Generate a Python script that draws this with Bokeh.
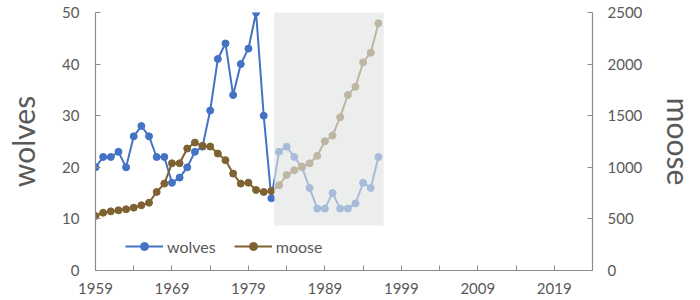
from bokeh.plotting import figure
from bokeh.models import (Range1d, LinearAxis, FixedTicker, BoxAnnotation,
                          Legend, LegendItem)
from bokeh.embed import file_html
from bokeh.resources import INLINE

years = list(range(1959, 1997))
wolves = [20, 22, 22, 23, 20, 26, 28, 26, 22, 22, 17, 18, 20, 23, 24, 31, 41, 44,
          34, 40, 43, 50, 30, 14, 23, 24, 22, 20, 16, 12, 12, 15, 12, 12, 13, 17, 16, 22]
moose = [528, 560, 573, 583, 593, 609, 632, 657, 761, 842, 1039, 1039, 1182, 1240,
         1208, 1201, 1133, 1069, 939, 842, 851, 780, 761, 771, 826, 926, 971, 1007,
         1039, 1111, 1253, 1308, 1486, 1700, 1781, 2017, 2111, 2396]

x_labels = [1959, 1969, 1979, 1989, 1999, 2009, 2019]
x_minor = [1964, 1974, 1984, 1994, 2004, 2014, 2024]
wolf_ticks = [0, 10, 20, 30, 40, 50]
moose_ticks = [0, 500, 1000, 1500, 2000, 2500]

shade_years = (1982.35, 1996.7)
shade_wolves = (8.7, 51.3)

FONT = "Lato"
GRAY = "#595959"
AXIS = "#8c8c8c"
BLUE = "#4472c4"
BROWN = "#7f6231"

p = figure(width=700, height=300, output_backend="svg", toolbar_location=None,
           x_range=Range1d(1959, 2024), y_range=Range1d(0, 50),
           min_border_left=95, min_border_right=100, min_border_top=12,
           min_border_bottom=30)
p.extra_y_ranges = {"moose": Range1d(0, 2500)}
p.outline_line_color = None
p.grid.grid_line_color = None
p.background_fill_color = "white"

wl = p.line(years, wolves, line_color=BLUE, line_width=2)
ws = p.scatter(years, wolves, size=7, fill_color=BLUE, line_color=BLUE)
ml = p.line(years, moose, line_color=BROWN, line_width=2, y_range_name="moose")
ms = p.scatter(years, moose, size=7, fill_color=BROWN, line_color=BROWN,
               y_range_name="moose")

p.add_layout(BoxAnnotation(left=shade_years[0], right=shade_years[1],
                           bottom=shade_wolves[0], top=shade_wolves[1],
                           fill_color="#e1e4e4", fill_alpha=0.64,
                           line_color=None, level="overlay"))

def style(ax):
    ax.axis_line_color = AXIS
    ax.axis_line_width = 1.2
    ax.major_tick_line_color = AXIS
    ax.minor_tick_line_color = AXIS
    ax.major_tick_in = 5
    ax.major_tick_out = 0
    ax.minor_tick_in = 5
    ax.minor_tick_out = 0
    ax.major_label_text_font = FONT
    ax.major_label_text_font_size = "15px"
    ax.major_label_text_color = GRAY
    ax.axis_label_text_font = FONT
    ax.axis_label_text_font_size = "30px"
    ax.axis_label_text_color = GRAY
    ax.axis_label_text_font_style = "normal"

xa = p.xaxis[0]
xa.ticker = FixedTicker(ticks=x_labels, minor_ticks=x_minor)
style(xa)
xa.major_label_standoff = 12

ya = p.yaxis[0]
ya.ticker = FixedTicker(ticks=wolf_ticks)
ya.minor_tick_line_color = None
style(ya)
ya.axis_label = "wolves"
ya.major_label_standoff = 16
ya.axis_label_standoff = 18

ra = LinearAxis(y_range_name="moose", ticker=FixedTicker(ticks=moose_ticks),
                axis_label="moose")
style(ra)
ra.minor_tick_line_color = None
ra.major_label_standoff = 15
ra.axis_label_standoff = 16
p.add_layout(ra, "right")

legend = Legend(items=[LegendItem(label="wolves", renderers=[wl, ws]),
                       LegendItem(label="moose", renderers=[ml, ms])],
                location=(30, 14), orientation="horizontal",
                glyph_width=38, glyph_height=20, label_height=20,
                label_standoff=4, spacing=18, padding=0, margin=0,
                border_line_color=None, background_fill_alpha=0,
                label_text_font=FONT, label_text_font_size="16px",
                label_text_color=GRAY)
p.add_layout(legend)

open("out.html", "w").write(file_html(p, INLINE))
